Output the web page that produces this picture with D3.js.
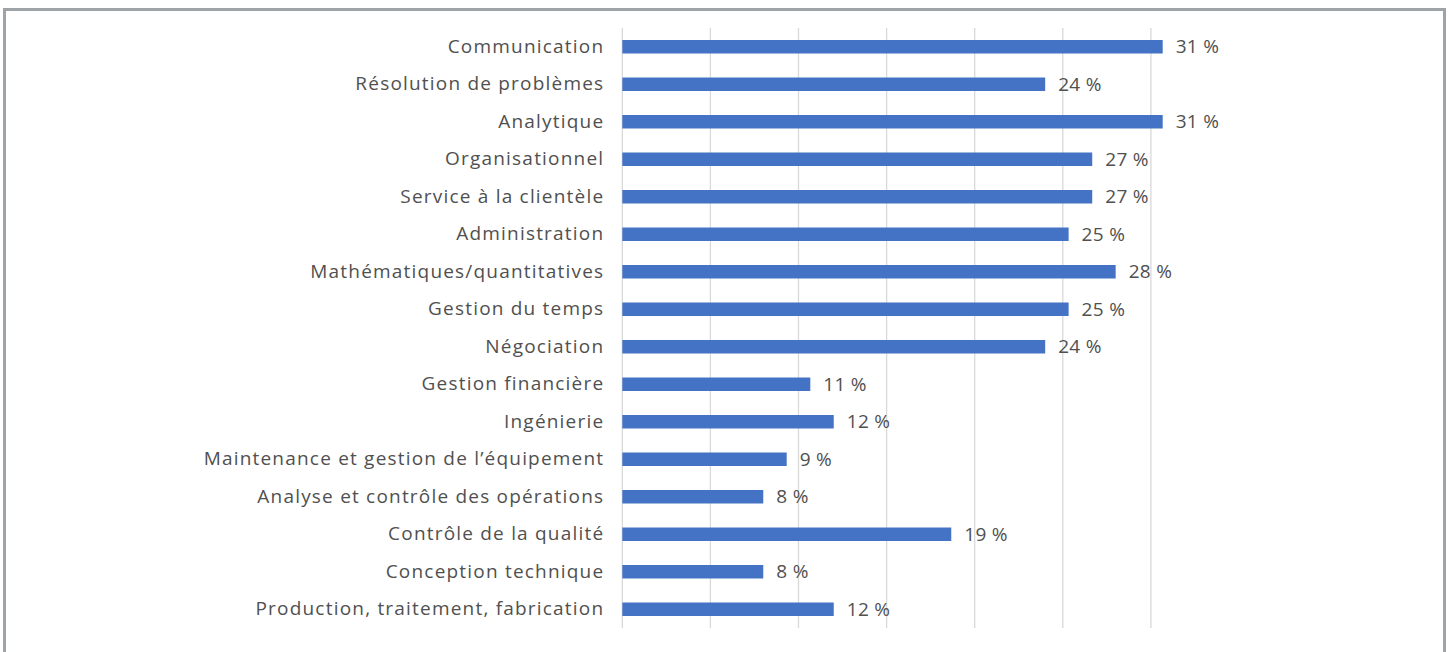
<!DOCTYPE html>
<html>
<head>
<meta charset="utf-8">
<script src="https://cdn.jsdelivr.net/npm/d3@7"></script>
<style>
  body { margin: 0; background: #fff; }
  svg text { font-family: "Open Sans", sans-serif; fill: #505050; }
</style>
</head>
<body>
<div id="container"></div>
<script>
let width = 1448;
let height = 652;

// categories, top to bottom
let skills = [
  "Communication",
  "Résolution de problèmes",
  "Analytique",
  "Organisationnel",
  "Service à la clientèle",
  "Administration",
  "Mathématiques/quantitatives",
  "Gestion du temps",
  "Négociation",
  "Gestion financière",
  "Ingénierie",
  "Maintenance et gestion de l\u2019équipement",
  "Analyse et contrôle des opérations",
  "Contrôle de la qualité",
  "Conception technique",
  "Production, traitement, fabrication"
];

// share of postings (%)
let shares = [30.67, 24, 30.67, 26.67, 26.67, 25.33, 28, 25.33, 24, 10.67, 12, 9.33, 8, 18.67, 8, 12];

// gridline values
let gridTicks = [0, 5, 10, 15, 20, 25, 30];

let svg = d3.select('#container')
  .append("svg")
  .attr("width", width)
  .attr("height", height);

// outer frame
svg.append("rect")
  .attr("x", 4.5)
  .attr("y", 9.5)
  .attr("width", 1440)
  .attr("height", 660)
  .attr("fill", "none")
  .attr("stroke", "#9ea3a8")
  .attr("stroke-width", 3);

let x = d3.scaleLinear().domain([0, 35]).range([622.3, 1239]);
let y = d3.scaleBand().domain(skills).range([28, 628]).paddingInner(0.64).paddingOuter(0.32);

// gridlines
svg.selectAll(".grid")
  .data(gridTicks)
  .enter()
  .append("line")
  .attr("x1", d => x(d))
  .attr("x2", d => x(d))
  .attr("y1", 28)
  .attr("y2", 628)
  .attr("stroke", "#d9d9d9")
  .attr("stroke-width", 1.3);

// bars
svg.selectAll(".bar")
  .data(shares)
  .enter()
  .append("rect")
  .attr("x", x(0))
  .attr("y", (d, i) => y(skills[i]))
  .attr("width", d => x(d) - x(0))
  .attr("height", y.bandwidth())
  .attr("fill", "#4472c4");

// category labels
let yAxis = svg.append("g")
  .attr("transform", "translate(" + x(0) + ",0)")
  .call(d3.axisLeft(y).tickSize(0).tickPadding(18));
yAxis.select(".domain").remove();
yAxis.selectAll("text")
  .style("font-size", "19px")
  .style("font-family", "'Open Sans', sans-serif")
  .style("letter-spacing", "1.2px")
  .attr("fill", "#505050");

// value labels
svg.selectAll(".val")
  .data(shares)
  .enter()
  .append("text")
  .attr("x", d => x(d) + 13)
  .attr("y", (d, i) => y(skills[i]) + y.bandwidth() / 2)
  .attr("dy", "0.35em")
  .style("font-size", "19px")
  .style("letter-spacing", "0.3px")
  .text(d => Math.round(d) + " %");
</script>
</body>
</html>
